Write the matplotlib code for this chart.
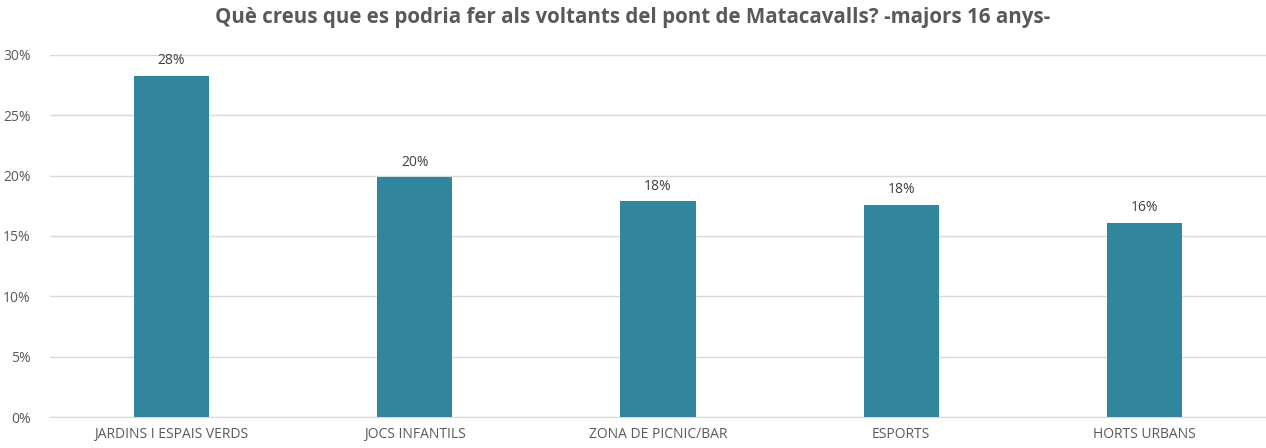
import matplotlib.pyplot as plt
from matplotlib import font_manager
from matplotlib.ticker import FuncFormatter, MultipleLocator

categories = ["JARDINS I ESPAIS VERDS", "JOCS INFANTILS", "ZONA DE PICNIC/BAR", "ESPORTS", "HORTS URBANS"]
values = [0.283, 0.199, 0.179, 0.176, 0.161]
labels = ["28%", "20%", "18%", "18%", "16%"]
title = "Què creus que es podria fer als voltants del pont de Matacavalls? -majors 16 anys-"

names = {f.name for f in font_manager.fontManager.ttflist}
font = "Liberation Sans Narrow" if "Liberation Sans Narrow" in names else "Open Sans"
plt.rcParams["font.family"] = [font, "DejaVu Sans"]

fig = plt.figure(figsize=(12.66, 4.48), dpi=100)
ax = fig.add_axes([50 / 1266, 1 - 417 / 448, 1216 / 1266, 362 / 448])

x = range(len(categories))
ax.bar(x, values, width=0.31, color="#31859C", zorder=3)
for xi, v, lab in zip(x, values, labels):
    ax.text(xi, v + 0.006, lab, ha="center", va="bottom", fontsize=10, color="#404040")

ax.set_xlim(-0.5, len(categories) - 0.5)
ax.set_ylim(0, 0.30)
ax.yaxis.set_major_locator(MultipleLocator(0.05))
ax.yaxis.set_major_formatter(FuncFormatter(lambda v, p: f"{v * 100:.0f}%"))
ax.grid(axis="y", color="#D9D9D9", linewidth=1, zorder=0)
for s in ["top", "right", "left"]:
    ax.spines[s].set_visible(False)
ax.spines["bottom"].set_color("#D9D9D9")
ax.set_xticks(list(x))
ax.set_xticklabels(categories)
ax.tick_params(axis="both", length=0, labelsize=10, colors="#595959")
ax.tick_params(axis="x", pad=7)
ax.tick_params(axis="y", pad=14)

fig.text(0.5, 1 - 18 / 448, title, ha="center", va="center", fontsize=14.8,
         fontweight="bold", color="#595959")

fig.savefig("out.png", dpi=100)
